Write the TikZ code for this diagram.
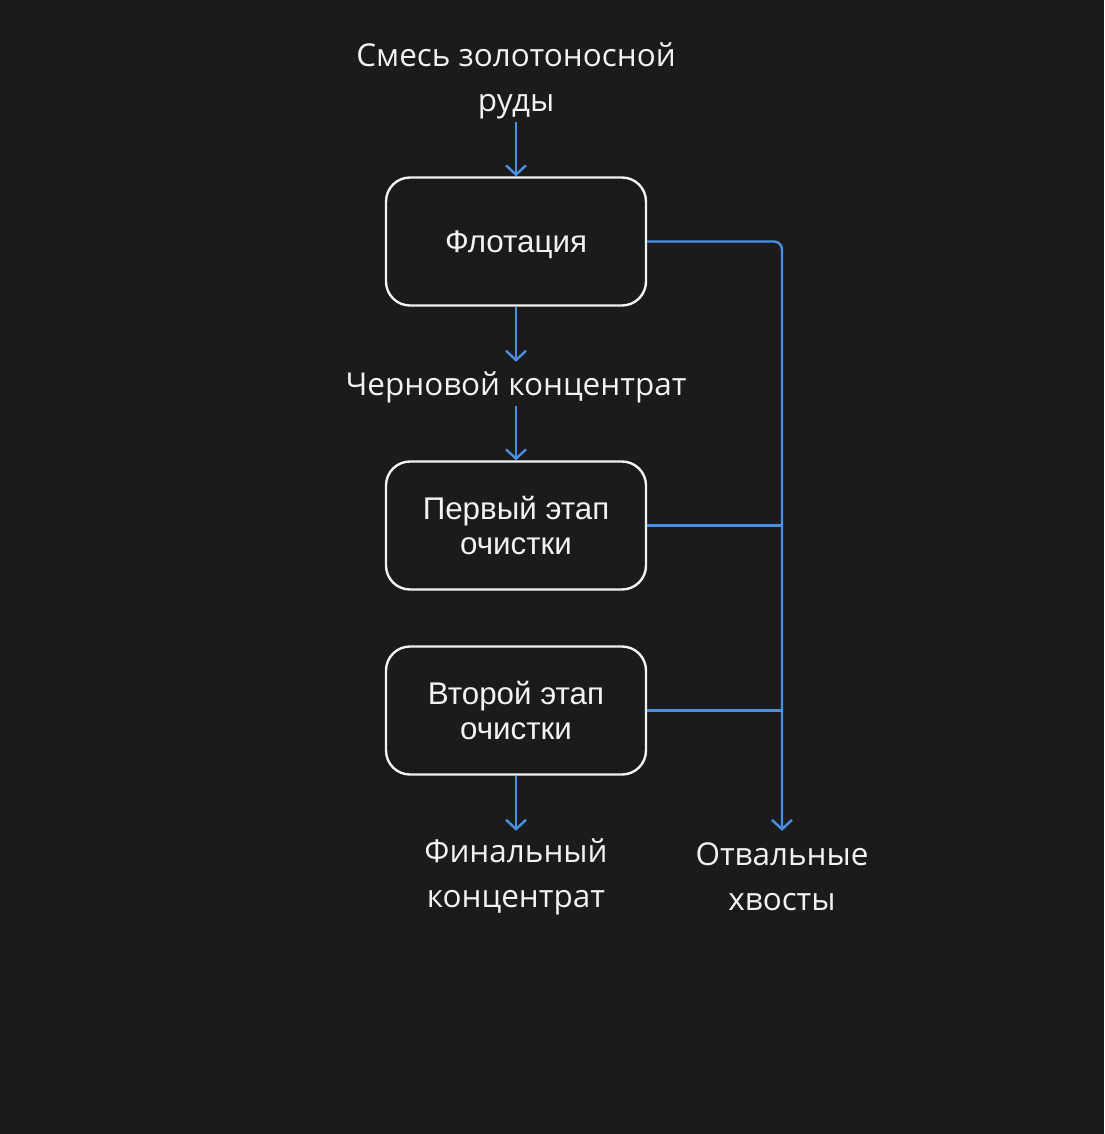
\documentclass[tikz,border=0pt]{standalone}
\usepackage{fontspec}
\setmainfont{Open Sans}
\newfontfamily\boxfont{Liberation Sans}
\usetikzlibrary{arrows.meta}
\definecolor{bgc}{HTML}{1B1B1B}
\definecolor{flowc}{HTML}{4A90E2}
\definecolor{txtc}{HTML}{F2F2F2}
\tikzset{
	stage/.style={draw=txtc, line width=1.8pt, fill=bgc, rounded corners=18pt, minimum width=195pt, minimum height=96pt, inner sep=0pt, align=center, text=txtc, font=\boxfont\fontsize{23.5}{26.5}\selectfont},
	lbl/.style={text=txtc, align=center, inner sep=2pt, font=\fontsize{23.6}{33.5}\selectfont},
	flow/.style={draw=flowc, line width=1.8pt, -{Straight Barb[length=7pt, width=15pt, line width=1.8pt]}}
}

\begin{document}
\begin{tikzpicture}[x=0.75pt, y=-0.75pt]
			%%%%% START %%%%%
			
			\fill[bgc] (0, 0) rectangle (1104, 1134);
			\useasboundingbox (0, 0) rectangle (1104, 1134);
			
			\node[lbl] (ore) at (516, 81) {Смесь золотоносной\\руды};
			\node[stage] (flot) at (516, 241.5) {\raisebox{-2.5pt}[\height][\depth]{Флотация}};
			\node[lbl] (rough) at (516, 387) {Черновой концентрат};
			\node[stage] (clean1) at (516, 525.5) {Первый этап\\очистки};
			\node[stage] (clean2) at (516, 710.5) {Второй этап\\очистки};
			\node[lbl] (final) at (516, 877) {Финальный\\концентрат};
			\node[lbl] (tails) at (782, 877) {Отвальные\\хвосты};
			
			\draw[flow] (ore.south) -- (flot.north);
			\draw[flow, shorten >=5pt] (flot.south) -- (rough.north);
			\draw[flow] (rough.south) -- (clean1.north);
			\draw[flow, shorten >=4pt] (clean2.south) -- (final.north);
			
			\draw[flow, rounded corners=6pt, shorten >=7pt] (flot.east) -| (tails.north);
			\draw[draw=flowc, line width=1.8pt] (clean1.east) -- (clean1.east -| tails.north);
			\draw[draw=flowc, line width=1.8pt] (clean2.east) -- (clean2.east -| tails.north);
			
			%%%%% END %%%%%
\end{tikzpicture}
\end{document}
